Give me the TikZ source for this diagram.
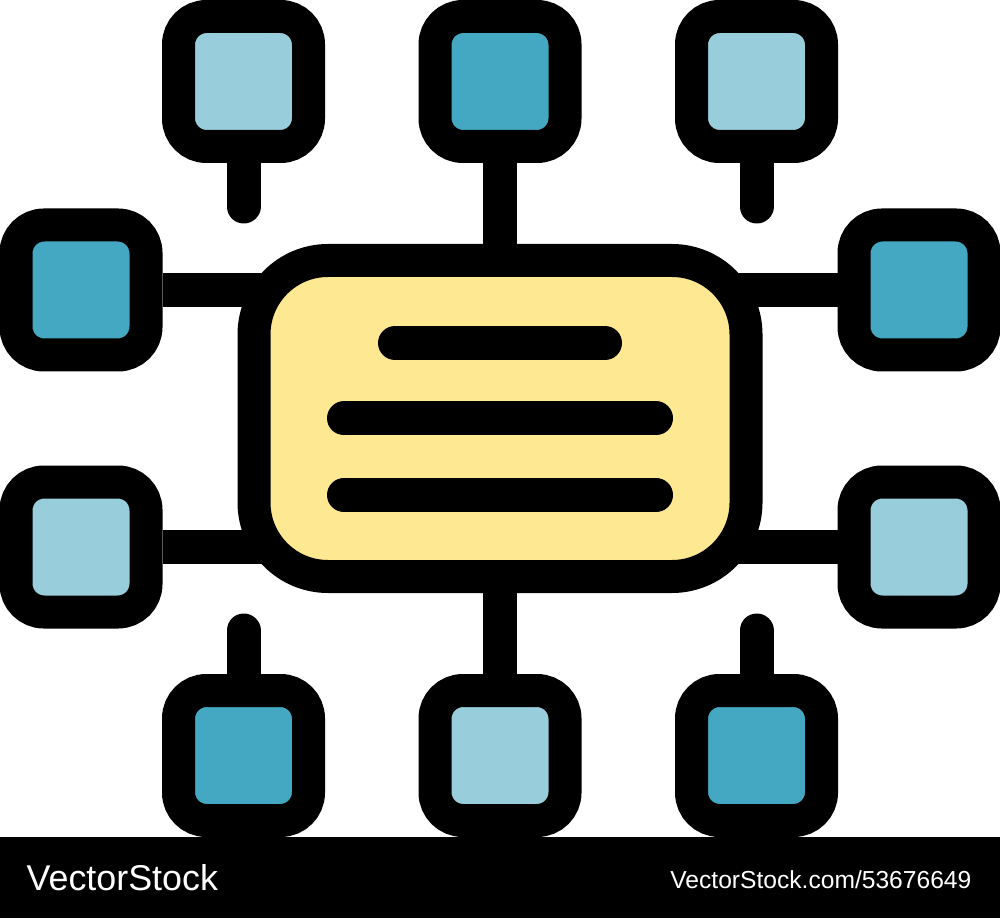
\documentclass[tikz,border=0pt]{standalone}
\usepackage{fontspec}
\setmainfont{Liberation Sans}
\usetikzlibrary{positioning,backgrounds}
\definecolor{darkcell}{HTML}{44A8C2}
\definecolor{lightcell}{HTML}{98CEDB}
\definecolor{hubfill}{HTML}{FEE891}

\begin{document}
\begin{tikzpicture}[
            hubnode/.style={rectangle, draw=black, fill=hubfill, line width=3.3mm, rounded corners=7.4mm, minimum width=4.92cm, minimum height=3.16cm, inner sep=0pt},
            darknode/.style={rectangle, draw=black, fill=darkcell, line width=3.3mm, rounded corners=2.8mm, minimum size=1.3cm, inner sep=0pt},
            lightnode/.style={darknode, fill=lightcell},
            link/.style={line width=3.4mm, draw=black},
            stub/.style={link, line cap=round},
            brand/.style={text=white, inner sep=0pt, font=\fontsize{10.2}{12}\selectfont},
        ]
            \useasboundingbox (0,0) rectangle (10,9.18);
            \fill[black] (0,0) rectangle (10,0.81);

            %Nodes
            \node[hubnode](hub) at (5,4.995) {};
            \node[darknode](tm)[above=0.81cm of hub] {};
            \node[lightnode](tl)[left=0.935cm of tm] {};
            \node[lightnode](tr)[right=0.935cm of tm] {};
            \node[darknode](lt)[left=0.75cm of hub, yshift=1.285cm] {};
            \node[lightnode](lb)[left=0.75cm of hub, yshift=-1.285cm] {};
            \node[darknode](rt)[right=0.75cm of hub, yshift=1.285cm] {};
            \node[lightnode](rb)[right=0.75cm of hub, yshift=-1.285cm] {};
            \node[lightnode](bm)[below=0.81cm of hub] {};
            \node[darknode](bl)[left=0.935cm of bm] {};
            \node[darknode](br)[right=0.935cm of bm] {};
            \coordinate[below=0.435cm of tl](tlend);
            \coordinate[below=0.435cm of tr](trend);
            \coordinate[above=0.435cm of bl](blend);
            \coordinate[above=0.435cm of br](brend);

            \node[brand, anchor=base west](logo) at (0.26,0.28) {VectorStock};
            \node[brand, anchor=base east, font=\fontsize{7}{8}\selectfont](stockid) at (9.72,0.30) {VectorStock.com/53676649};

            %Text bars
            \draw[stub]([shift={(-1.05,0.755)}]hub.center) -- ([shift={(1.05,0.755)}]hub.center);
            \draw[stub]([shift={(-1.56,0)}]hub.center) -- ([shift={(1.56,0)}]hub.center);
            \draw[stub]([shift={(-1.56,-0.765)}]hub.center) -- ([shift={(1.56,-0.765)}]hub.center);

            %Lines
            \begin{scope}[on background layer]
                \draw[link](tm) -- (hub);
                \draw[link](bm) -- (hub);
                \draw[link](lt) -- (lt -| hub);
                \draw[link](lb) -- (lb -| hub);
                \draw[link](rt) -- (rt -| hub);
                \draw[link](rb) -- (rb -| hub);
                \draw[stub](tl) -- (tlend);
                \draw[stub](tr) -- (trend);
                \draw[stub](bl) -- (blend);
                \draw[stub](br) -- (brend);
            \end{scope}
        \end{tikzpicture}
\end{document}
